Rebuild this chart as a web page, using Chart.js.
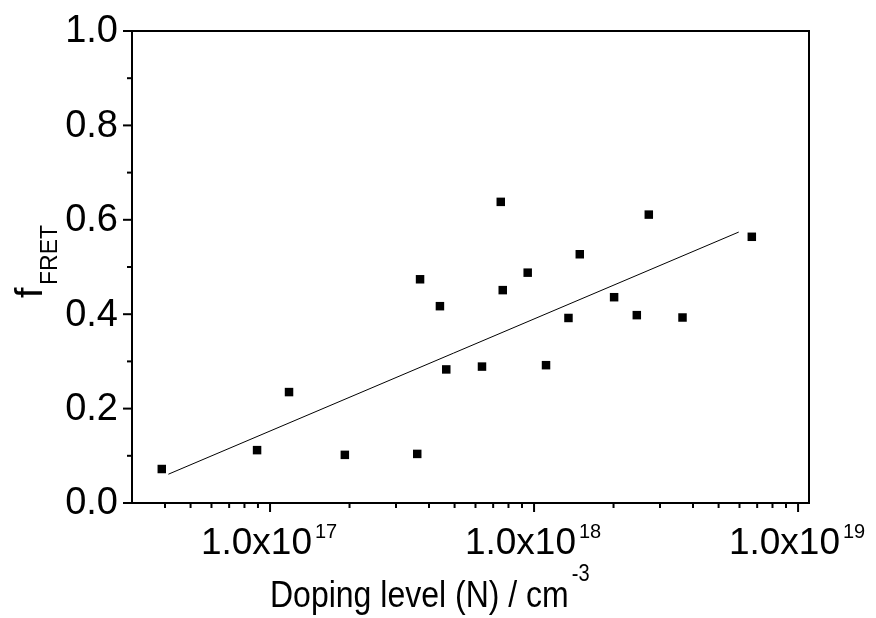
<!DOCTYPE html>
<html>
<head>
<meta charset="utf-8">
<script src="https://cdn.jsdelivr.net/npm/chart.js@4/dist/chart.umd.min.js"></script>
<style>
  html, body { margin: 0; padding: 0; background: #fff; }
  #wrap { width: 876px; height: 618px; }
</style>
</head>
<body>
<div id="wrap"><canvas id="fret-chart" width="876" height="618"></canvas></div>
<script>
// doping level (cm^-3) and FRET fraction
const dopingLevels = [3.89e16, 8.93e16, 1.18e17, 1.92e17, 3.61e17, 3.70e17, 4.40e17, 4.65e17, 6.35e17, 7.48e17,
  7.61e17, 9.46e17, 1.11e18, 1.35e18, 1.49e18, 2.01e18, 2.45e18, 2.72e18, 3.65e18, 6.68e18];
const fretValues = [0.072, 0.112, 0.235, 0.102, 0.104, 0.474, 0.417, 0.283, 0.289, 0.638,
  0.451, 0.488, 0.292, 0.392, 0.527, 0.436, 0.398, 0.611, 0.393, 0.564];

// fitted line end points
const fitX = [4.12e16, 5.96e18];
const fitY = [0.061, 0.574];

// axis ticks
const xMajorTicks = [1e17, 1e18, 1e19];
const xTickExponents = ["17", "18", "19"];
const yMajorTicks = [0, 0.2, 0.4, 0.6, 0.8, 1.0];
const yMinorTicks = [0.1, 0.3, 0.5, 0.7, 0.9];

const FONT = "'Liberation Sans', Arial, sans-serif";

// text drawn a bit taller than wide, like the original export
function stretchedText(ctx, text, x, y, size, stretch) {
  ctx.save();
  ctx.font = size + "px " + FONT;
  ctx.translate(x, y);
  ctx.scale(1, stretch);
  ctx.fillText(text, 0, 0);
  ctx.restore();
}

// all tick marks, labels and the frame are drawn here from the chart scales
const axesPlugin = {
  id: "originAxes",
  afterDraw(chart) {
    const ctx = chart.ctx;
    const xs = chart.scales.x;
    const ys = chart.scales.y;
    const { left, right, top, bottom } = chart.chartArea;

    ctx.save();
    ctx.strokeStyle = "#000";
    ctx.fillStyle = "#000";

    // frame
    ctx.lineWidth = 2;
    ctx.strokeRect(left, top, right - left, bottom - top);

    // y ticks
    yMajorTicks.forEach((v) => {
      const py = ys.getPixelForValue(v);
      ctx.beginPath();
      ctx.moveTo(left - 9, py);
      ctx.lineTo(left, py);
      ctx.stroke();
    });
    yMinorTicks.forEach((v) => {
      const py = ys.getPixelForValue(v);
      ctx.beginPath();
      ctx.moveTo(left - 5, py);
      ctx.lineTo(left, py);
      ctx.stroke();
    });

    // x ticks (log minor ticks at 2..9 per decade)
    for (let e = 16; e <= 19; e++) {
      for (let m = 1; m <= 9; m++) {
        const v = m * Math.pow(10, e);
        if (v <= xs.min || v >= xs.max) continue;
        const px = xs.getPixelForValue(v);
        ctx.beginPath();
        ctx.moveTo(px, bottom);
        ctx.lineTo(px, bottom + (m === 1 ? 9 : 5));
        ctx.stroke();
      }
    }

    // y labels
    ctx.font = "38px " + FONT;
    ctx.textAlign = "right";
    ctx.textBaseline = "middle";
    yMajorTicks.forEach((v) => {
      ctx.fillText(v.toFixed(1), left - 14, ys.getPixelForValue(v) + 1);
    });

    // x labels with superscript exponent
    ctx.textBaseline = "alphabetic";
    ctx.textAlign = "left";
    const gap = 3;
    xMajorTicks.forEach((v, i) => {
      const px = xs.getPixelForValue(v);
      ctx.font = "37px " + FONT;
      const base = "1.0x10";
      const bw = ctx.measureText(base).width;
      ctx.font = "20px " + FONT;
      const sw = ctx.measureText(xTickExponents[i]).width;
      const x0 = px - 1 - (bw + gap + sw) / 2;
      ctx.font = "37px " + FONT;
      ctx.fillText(base, x0, bottom + 51);
      ctx.font = "20px " + FONT;
      ctx.fillText(xTickExponents[i], x0 + bw + gap, bottom + 35);
    });

    // x title
    const title = "Doping level (N) / cm";
    ctx.font = "32px " + FONT;
    const tw = ctx.measureText(title).width;
    stretchedText(ctx, title, 270, 607, 32, 1.15);
    stretchedText(ctx, "-3", 270 + tw + 3, 581, 20, 1.15);

    // y title, rotated: f with FRET subscript
    ctx.save();
    ctx.rotate(-Math.PI / 2);
    ctx.font = "38px " + FONT;
    ctx.fillText("f", -298, 42);
    ctx.font = "23px " + FONT;
    ctx.fillText("FRET", -285, 57);
    ctx.restore();

    ctx.restore();
  },
};

new Chart(document.querySelector("#fret-chart").getContext("2d"), {
  type: "scatter",
  data: {
    datasets: [
      {
        label: "data",
        data: dopingLevels.map((x, i) => ({ x: x, y: fretValues[i] })),
        pointStyle: "rect",
        pointRadius: 6,
        pointBorderWidth: 0,
        backgroundColor: "#000",
        borderColor: "#000",
      },
      {
        label: "fit",
        type: "line",
        data: fitX.map((x, i) => ({ x: x, y: fitY[i] })),
        borderColor: "#000",
        borderWidth: 1,
        pointRadius: 0,
        fill: false,
      },
    ],
  },
  options: {
    responsive: false,
    animation: false,
    layout: { padding: { left: 132, right: 67, top: 31, bottom: 115 } },
    plugins: { legend: { display: false }, tooltip: { enabled: false } },
    scales: {
      x: { type: "logarithmic", min: 3.0e16, max: 1.1e19, display: false },
      y: { type: "linear", min: 0, max: 1.0, display: false },
    },
  },
  plugins: [axesPlugin],
});
</script>
</body>
</html>
